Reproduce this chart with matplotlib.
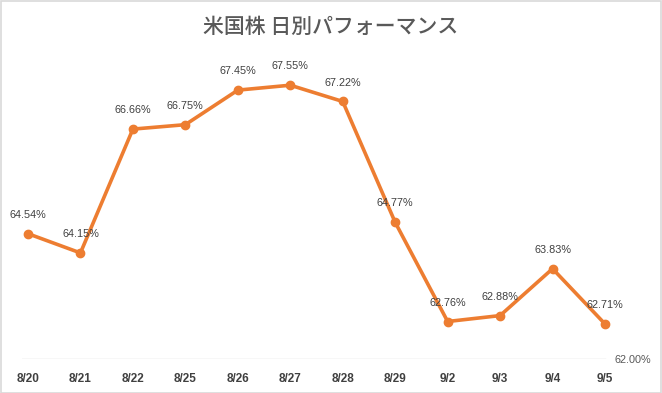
import matplotlib
matplotlib.use("Agg")
import matplotlib.pyplot as plt
from matplotlib.patches import Rectangle

categories = ["8/20", "8/21", "8/22", "8/25", "8/26", "8/27", "8/28", "8/29", "9/2", "9/3", "9/4", "9/5"]
values = [64.54, 64.15, 66.66, 66.75, 67.45, 67.55, 67.22, 64.77, 62.76, 62.88, 63.83, 62.71]
title = "米国株 日別パフォーマンス"

plt.rcParams['font.family'] = ['Noto Sans CJK JP', 'DejaVu Sans']

W, H = 662, 393
fig = plt.figure(figsize=(W / 100, H / 100), dpi=100)
fig.patch.set_facecolor("white")
fig.patches.append(Rectangle((0.5 / W, 0.5 / H), 1 - 1.5 / W, 1 - 1.5 / H, transform=fig.transFigure,
                             fill=False, edgecolor="#D9D9D9", linewidth=1.2))

left, right = 22 / W, 610 / W
bottom, top = 1 - 359 / H, 1 - 63 / H
ax = fig.add_axes([left, bottom, right - left, top - bottom])
ax.set_facecolor("none")

x = list(range(len(categories)))
ax.plot(x, values, color="#ED7D31", linewidth=2.6, marker="o", markersize=6,
        solid_joinstyle="round", solid_capstyle="round", zorder=3)

for xi, v in zip(x, values):
    ax.annotate(f"{v:.2f}%", (xi, v), xytext=(0, 10), textcoords="offset points",
                ha="center", va="bottom", fontsize=7.8, color="#404040",
                family=["Liberation Sans", "DejaVu Sans"])

ax.set_xlim(-0.114, 11.095)
ax.set_ylim(62, 68)
for s in ax.spines.values():
    s.set_visible(False)
ax.axhline(62, xmin=0.0, xmax=(605 - 22) / (610 - 22), color="#D9D9D9", linewidth=1, zorder=1)

ax.set_xticks(x)
ax.set_xticklabels(categories, fontsize=8.5, color="#404040", fontweight="bold",
                   family=["Liberation Sans", "DejaVu Sans"])
ax.tick_params(axis="x", length=0, pad=10)
ax.yaxis.tick_right()
ax.set_yticks([62])
ax.set_yticklabels(["62.00%"], fontsize=7.8, color="#595959", family=["Liberation Sans", "DejaVu Sans"])
ax.tick_params(axis="y", length=0, pad=3)

fig.text(0.5, 1 - 27 / H, title, ha="center", va="center", fontsize=15, fontweight="medium", color="#595959")

fig.savefig("out.png", dpi=100)
